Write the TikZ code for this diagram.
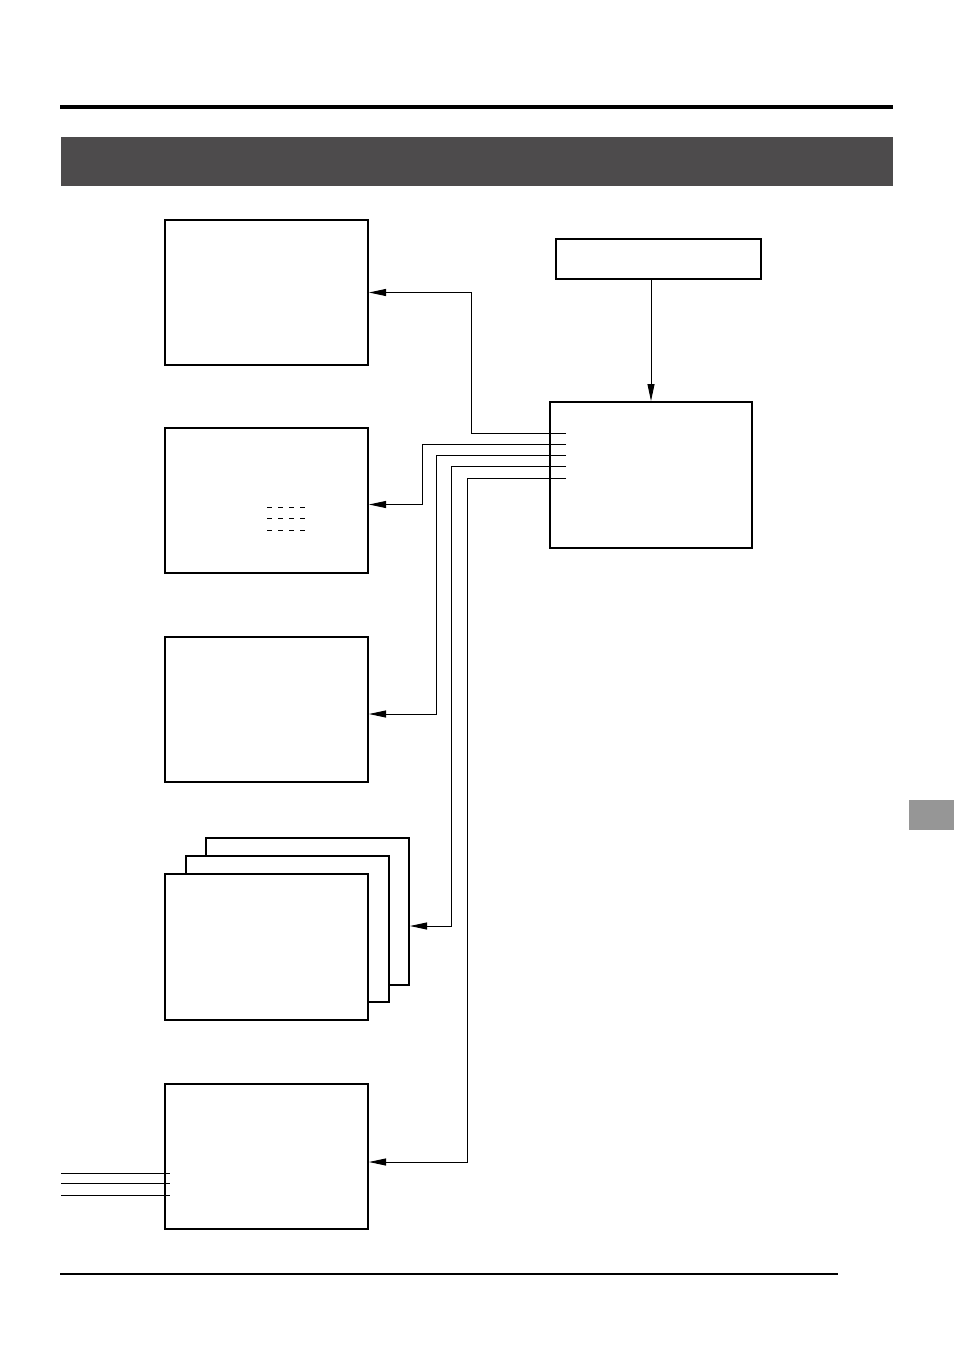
\documentclass[tikz,border=0pt]{standalone}
\usetikzlibrary{arrows.meta,positioning,calc}
\definecolor{cBanner}{RGB}{77,75,76}
\definecolor{cTab}{RGB}{150,150,150}
\tikzset{
	panel/.style ={rectangle, draw=black, line width=2pt, fill=white, minimum width=203pt, minimum height=145pt, inner sep=0pt, anchor=north west},
	srcbox/.style={rectangle, draw=black, line width=2pt, minimum width=205pt, minimum height=40pt, inner sep=0pt, anchor=north west},
	sig/.style   ={-{Triangle[length=17pt,width=7pt]}, line width=0.9pt},
	wire/.style  ={line width=0.9pt},
}
\begin{document}
\begin{tikzpicture}[x=1pt, y=-1pt]
	\useasboundingbox (0,0) rectangle (954,1351);
	% page furniture
	\draw[line width=4.5pt] (60,107) -- (893,107);
	\fill[cBanner] (61,137) rectangle (893,186);
	\fill[cTab] (909,800) rectangle (954,830);
	\draw[line width=2pt] (60,1274) -- (838,1274);
	% source and controller
	\node[srcbox] (src) at (555,238) {};
	\node[panel, minimum width=202pt, minimum height=146pt] (ctrl) at (549,401) {};
	\draw[sig] (src.south -| ctrl.north) -- (ctrl.north);
	% output panels
	\node[panel] (b1) at (164,219) {};
	\node[panel] (b2) at (164,427) {};
	\node[panel] (b3) at (164,636) {};
	\node[panel, minimum height=147pt] (b4c) at (205,837) {};
	\node[panel, minimum height=146pt] (b4b) at (185,855) {};
	\node[panel, minimum height=146pt] (b4a) at (164,873) {};
	\node[panel] (b5) at (164,1083) {};
	\foreach \dy in {80,91,103}
		\draw[wire, dash pattern=on 5pt off 6pt] ($(b2.north west)+(103,\dy)$) -- ++(39,0);
	\foreach \dy in {90,100,112}
		\draw[wire] ($(b5.north west)+(-103,\dy)$) -- ++(109,0);
	% outputs of the controller
	\foreach \i/\y in {1/433,2/444,3/455,4/466,5/478}
		\coordinate (o\i) at (566,\y);
	\draw[sig] (o1) -- ++(-95,0) |- (b1.east);
	\draw[sig] (o2) -- ++(-144,0) |- ([yshift=-4pt]b2.east);
	\draw[sig] (o3) -- ++(-130,0) |- ([yshift=-4.5pt]b3.east);
	\draw[sig] (o4) -- ++(-115,0) |- ([yshift=-14.5pt]b4c.east);
	\draw[sig] (o5) -- ++(-99,0) |- ([yshift=-5.5pt]b5.east);
\end{tikzpicture}
\end{document}
